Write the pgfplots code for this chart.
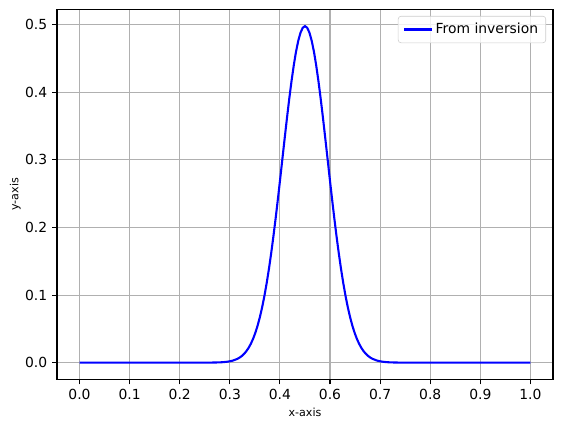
\documentclass[border=0pt]{standalone}
\usepackage{fontspec}
\setmainfont{DejaVu Sans}
\usepackage{pgfplots}
\pgfplotsset{compat=1.18}
\usetikzlibrary{calc}
\definecolor{gridc}{HTML}{B0B0B0}
\definecolor{legc}{HTML}{CCCCCC}

\begin{document}
\begin{tikzpicture}
\begin{axis}[
  name=ax, scale only axis, width=357pt, height=266.4pt,
  xmin=-0.05, xmax=1.05, ymin=-0.0249, ymax=0.5229,
  xtick={0,0.11111,0.22222,0.33333,0.44444,0.55556,0.66667,0.77778,0.88889,1},
  xticklabels={0.0,0.1,0.2,0.3,0.4,0.6,0.7,0.8,0.9,1.0},
  ytick={0,0.1,0.2,0.3,0.4,0.5},
  yticklabel style={/pgf/number format/.cd, fixed, fixed zerofill, precision=1},
  /pgf/number format/assume math mode=true,
  tick label style={font=\fontsize{10}{12}\selectfont},
  tick align=outside, major tick length=3.5pt, tick pos=left,
  grid=major, major grid style={gridc, line width=0.8pt},
  axis line style={line width=0.8pt},
  every tick/.style={black, line width=0.8pt},
  xlabel={x-axis}, ylabel={y-axis},
  label style={font=\fontsize{8}{9.6}\selectfont},
  xlabel style={at={(rel axis cs:0.5,0)}, anchor=center, yshift=-23.5pt},
  ylabel style={at={(rel axis cs:0,0.5)}, anchor=center, yshift=30pt},
  legend style={at={(rel axis cs:1,1)}, anchor=north east, xshift=-5pt, yshift=-4.8pt,
    draw=legc, rounded corners=2pt, font=\fontsize{10}{12}\selectfont,
    inner xsep=3.5pt, inner ysep=3pt, fill=white, fill opacity=0.8, text opacity=1},
  legend cell align=left,
  legend image code/.code={\draw[#1, line width=1.5pt] (0pt,0pt) -- (20pt,0pt);},
]
\addplot[blue, line width=1.5pt] coordinates {
(0,0) (0.1,0) (0.2,0) (0.25,0) (0.28,0.00002) (0.30,0.00017) (0.31,0.00036)
(0.32,0.00076) (0.33,0.00154) (0.34,0.00298) (0.35,0.00553) (0.355,0.00743)
(0.36,0.00988) (0.365,0.01301) (0.37,0.01696) (0.375,0.02188) (0.38,0.02795)
(0.385,0.03536) (0.39,0.04428) (0.395,0.05490) (0.40,0.06740) (0.405,0.08191)
(0.41,0.09855) (0.415,0.11740) (0.42,0.13846) (0.425,0.16168) (0.43,0.18690)
(0.435,0.21392) (0.44,0.24240) (0.445,0.27194) (0.45,0.30205) (0.455,0.33216)
(0.46,0.36162) (0.465,0.38978) (0.47,0.41596) (0.475,0.43948) (0.48,0.45971)
(0.485,0.47609) (0.49,0.48814) (0.495,0.49552) (0.50,0.498)
(0.505,0.49552) (0.51,0.48814) (0.515,0.47609) (0.52,0.45971) (0.525,0.43948)
(0.53,0.41596) (0.535,0.38978) (0.54,0.36162) (0.545,0.33216) (0.55,0.30205)
(0.555,0.27194) (0.56,0.24240) (0.565,0.21392) (0.57,0.18690) (0.575,0.16168)
(0.58,0.13846) (0.585,0.11740) (0.59,0.09855) (0.595,0.08191) (0.60,0.06740)
(0.605,0.05490) (0.61,0.04428) (0.615,0.03536) (0.62,0.02795) (0.625,0.02188)
(0.63,0.01696) (0.635,0.01301) (0.64,0.00988) (0.645,0.00743) (0.65,0.00553)
(0.66,0.00298) (0.67,0.00154) (0.68,0.00076) (0.69,0.00036) (0.70,0.00017)
(0.72,0.00002) (0.75,0) (0.8,0) (0.9,0) (1,0)
};
\addlegendentry{From inversion}
\end{axis}
\pgfresetboundingbox
\path ($(ax.south west)+(-41pt,-35.3pt)$) rectangle ($(ax.north east)+(7.2pt,6.7pt)$);
\end{tikzpicture}
\end{document}
